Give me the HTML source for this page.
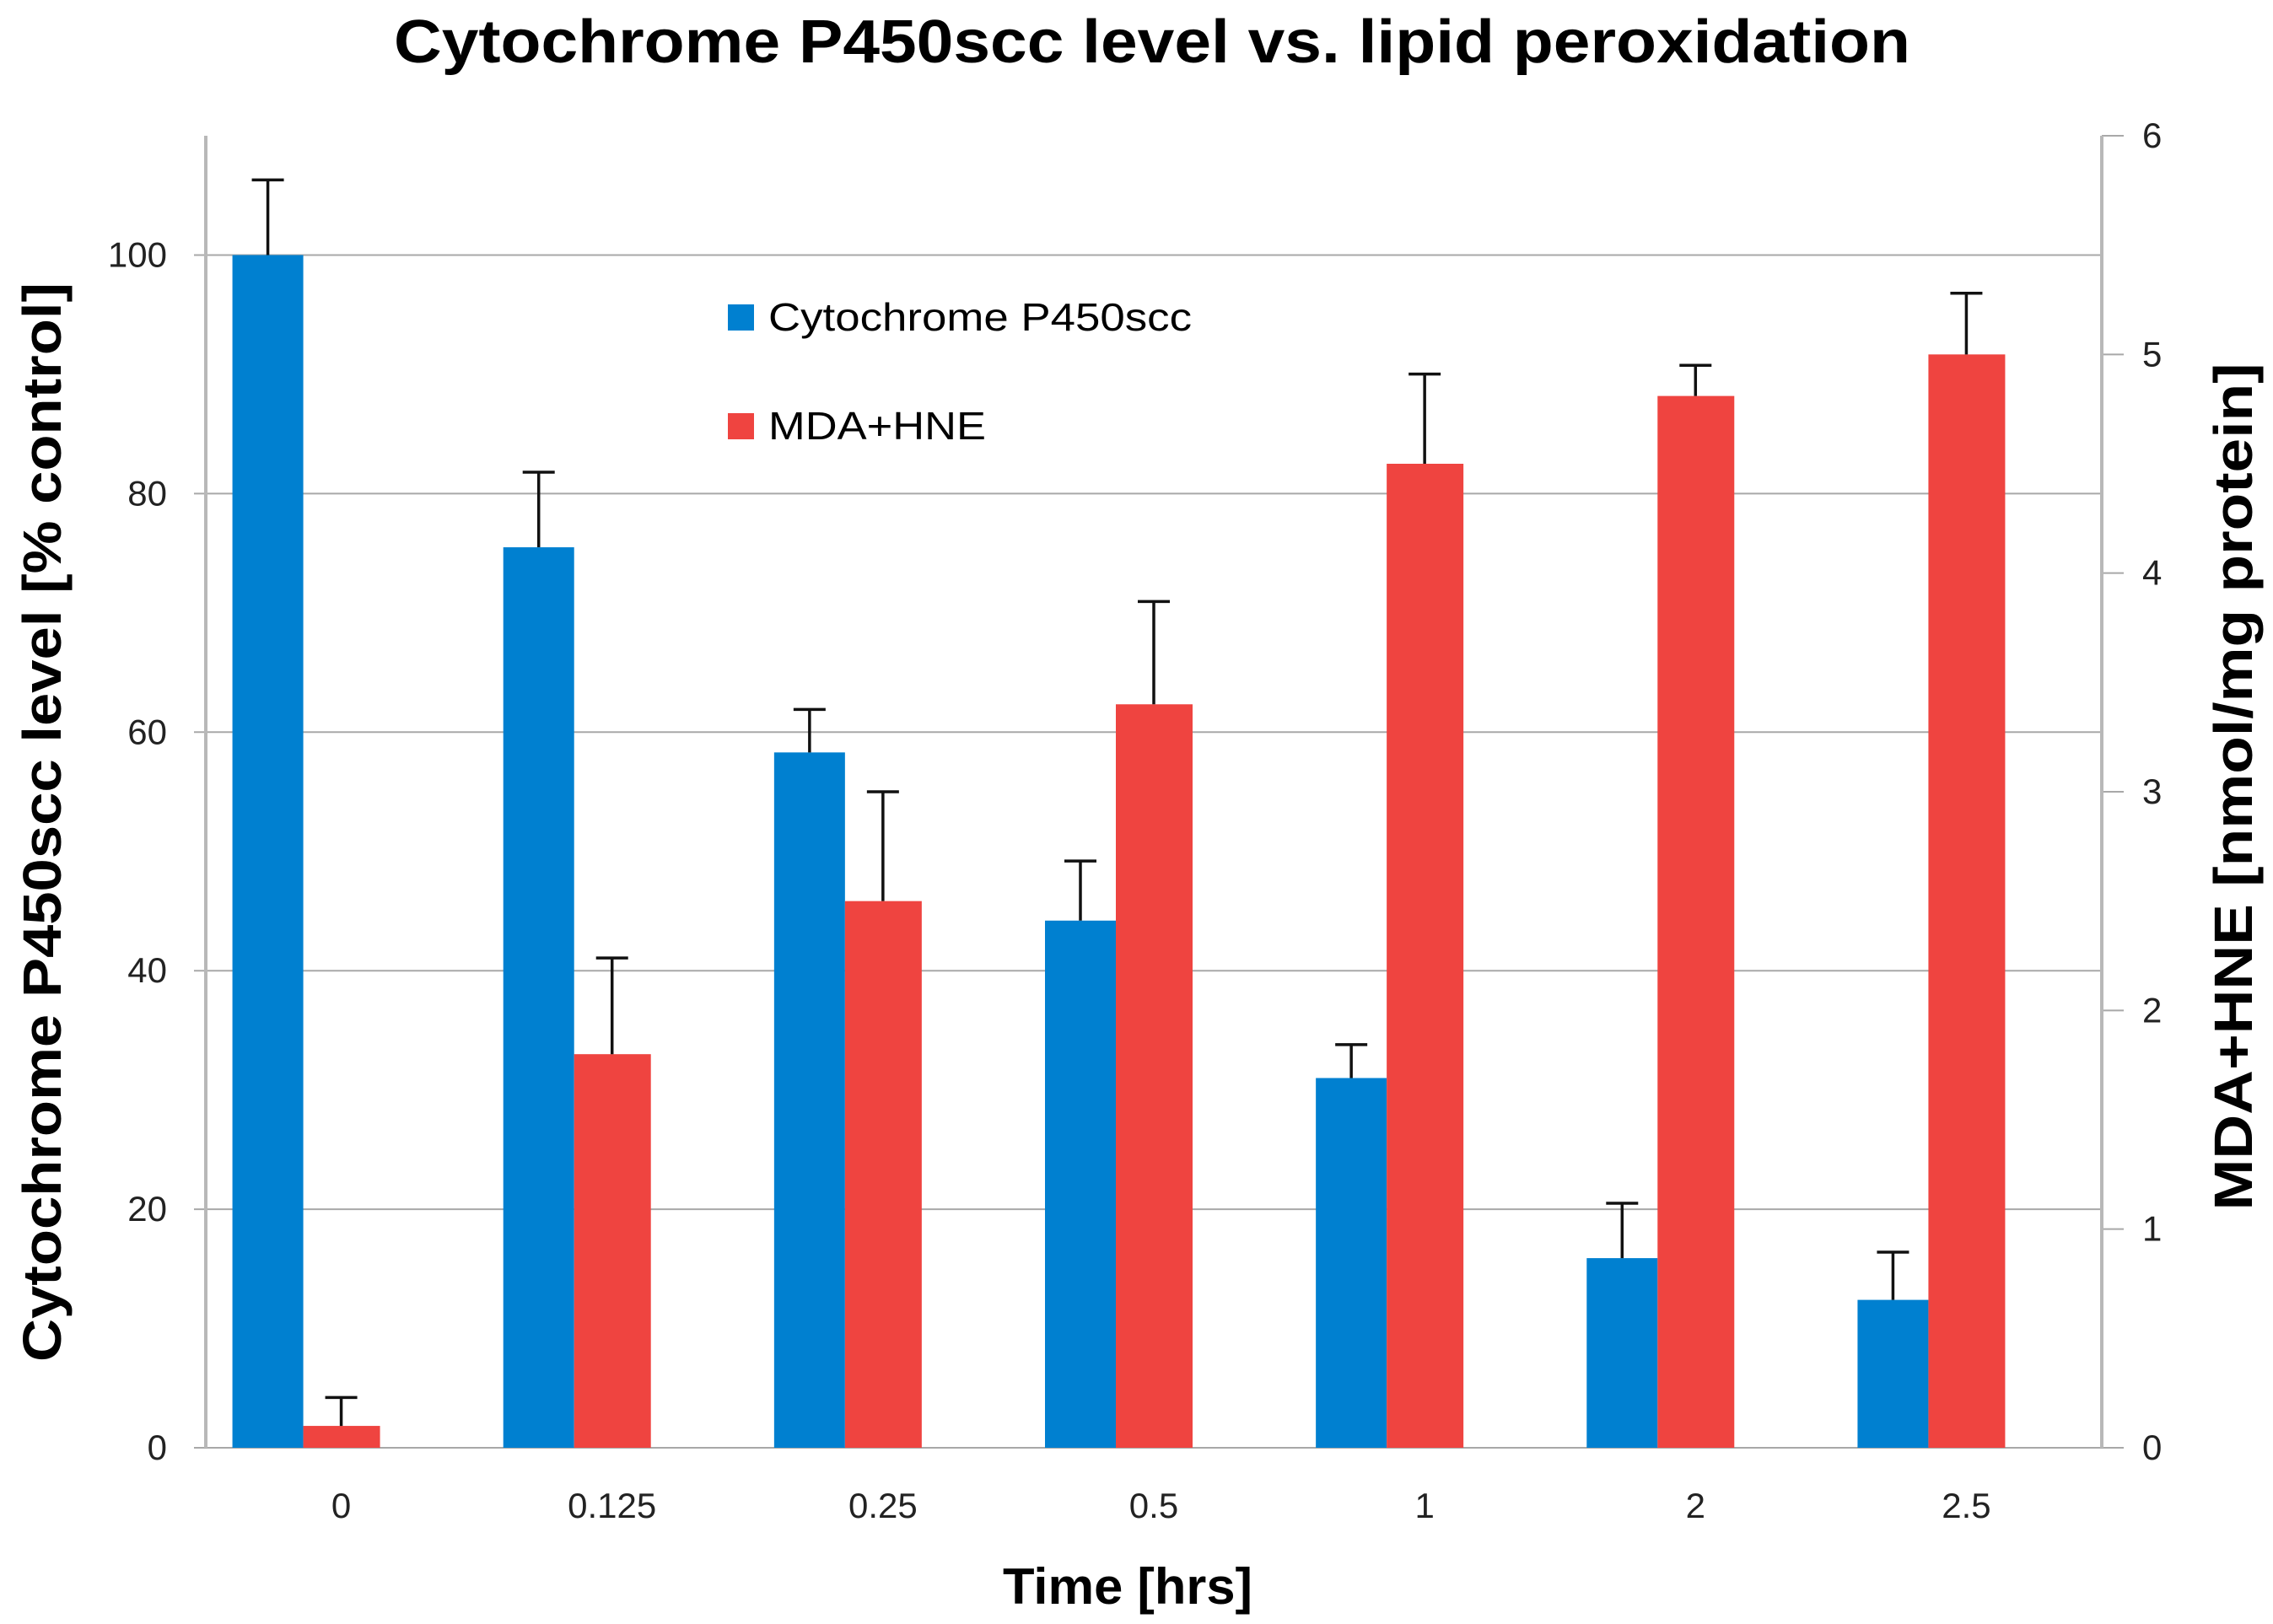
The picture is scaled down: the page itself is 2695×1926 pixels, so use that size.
<!DOCTYPE html>
<html><head><meta charset="utf-8"><style>
html,body{margin:0;padding:0;background:#fff}
svg{display:block}
text{font-family:"Liberation Sans",sans-serif}
</style></head><body>
<svg id="chart" width="2695" height="1926" viewBox="0 0 2695 1926" xmlns="http://www.w3.org/2000/svg">
<text x="1366" y="74" text-anchor="middle" font-size="72" font-weight="bold" textLength="1798" lengthAdjust="spacingAndGlyphs">Cytochrome P450scc level vs. lipid peroxidation</text>
<g id="grid"></g>
<g id="bars"></g>
<g id="axes"></g>
<text transform="translate(72,975) rotate(-90)" text-anchor="middle" font-size="64" font-weight="bold" textLength="1280" lengthAdjust="spacingAndGlyphs">Cytochrome P450scc level  [% control]</text>
<text transform="translate(2670,933) rotate(-90)" text-anchor="middle" font-size="64" font-weight="bold" textLength="1005" lengthAdjust="spacingAndGlyphs">MDA+HNE [nmol/mg protein]</text>
<text x="1337" y="1902" text-anchor="middle" font-size="60" font-weight="bold" textLength="296" lengthAdjust="spacingAndGlyphs">Time [hrs]</text>
<g>
<rect x="863" y="361" width="31" height="31" fill="#0080d0"/>
<text x="911" y="392" font-size="46" textLength="502" lengthAdjust="spacingAndGlyphs">Cytochrome P450scc</text>
<rect x="863" y="490" width="31" height="31" fill="#ef4440"/>
<text x="911" y="521" font-size="46" textLength="258" lengthAdjust="spacingAndGlyphs">MDA+HNE</text>
</g>
</svg>
<script>
const categories = ["0","0.125","0.25","0.5","1","2","2.5"];
const p450Values = [100, 75.5, 58.3, 44.2, 31, 15.9, 12.4];
const p450Errors = [6.3, 6.3, 3.6, 5.0, 2.8, 4.6, 4.0];
const mdaValues = [0.1, 1.8, 2.5, 3.4, 4.5, 4.81, 5.0];
const mdaErrors = [0.13, 0.44, 0.5, 0.47, 0.41, 0.14, 0.28];
const leftTicks = [0,20,40,60,80,100];
const rightTicks = [0,1,2,3,4,5,6];

const NS="http://www.w3.org/2000/svg";
const X0=244, X1=2492, Y0=1717, YTOP=161;
const yL = v => Y0 - v*(1717-302.5)/100;
const yR = v => Y0 - v*(1717-161)/6;
const band = (X1-X0)/categories.length;
const xc = i => X0 + band*(i+0.5);
function mk(tag, attrs, parent){const e=document.createElementNS(NS,tag);for(const k in attrs)e.setAttribute(k,attrs[k]);parent.appendChild(e);return e;}
const grid=document.getElementById('grid'), bars=document.getElementById('bars'), axes=document.getElementById('axes');

leftTicks.forEach(t=>{
  const y=yL(t);
  const g=mk('line',{x1:230,x2:X1,y1:y,y2:y,stroke:'#a8a8a8','stroke-width':2},grid);
  
  
  const l=mk('text',{x:198,y:y+14,'text-anchor':'end','font-size':42,fill:'#222'},axes);
  l.textContent=t;
  
  
});
rightTicks.forEach(t=>{
  const y=yR(t);
  const g=mk('line',{x1:X1,x2:2518,y1:y,y2:y,stroke:'#a8a8a8','stroke-width':2},axes);
  
  
  const l=mk('text',{x:2540,y:y+14,'font-size':42,fill:'#222'},axes);
  l.textContent=t;
  
  
});
let a=mk('line',{x1:X0,x2:X0,y1:YTOP,y2:Y0,stroke:'#b8b8b8','stroke-width':4},axes);


a=mk('line',{x1:X1,x2:X1,y1:YTOP,y2:Y0,stroke:'#b8b8b8','stroke-width':4},axes);



function errBar(x, yv, ye, name){
  const l=mk('path',{d:`M${x},${yv}V${ye}M${x-19},${ye}H${x+19}`,stroke:'#111','stroke-width':3.5,fill:'none'},bars);
  
  
}
categories.forEach((c,i)=>{
  const cx=xc(i);
  const bY=yL(p450Values[i]);
  const b=mk('rect',{x:cx-129,y:bY,width:84,height:Y0-bY,fill:'#0080d0'},bars);
  
  
  errBar(cx-87, bY, yL(p450Values[i]+p450Errors[i]), 'error-bar-p450-'+c);
  const rY=yR(mdaValues[i]);
  const r=mk('rect',{x:cx-45,y:rY,width:91,height:Y0-rY,fill:'#ef4440'},bars);
  
  
  errBar(cx, rY, yR(mdaValues[i]+mdaErrors[i]), 'error-bar-mda-'+c);
  const t=mk('text',{x:cx,y:1800,'text-anchor':'middle','font-size':42,fill:'#222'},axes);
  t.textContent=c;
  
  
});
</script>
</body></html>
